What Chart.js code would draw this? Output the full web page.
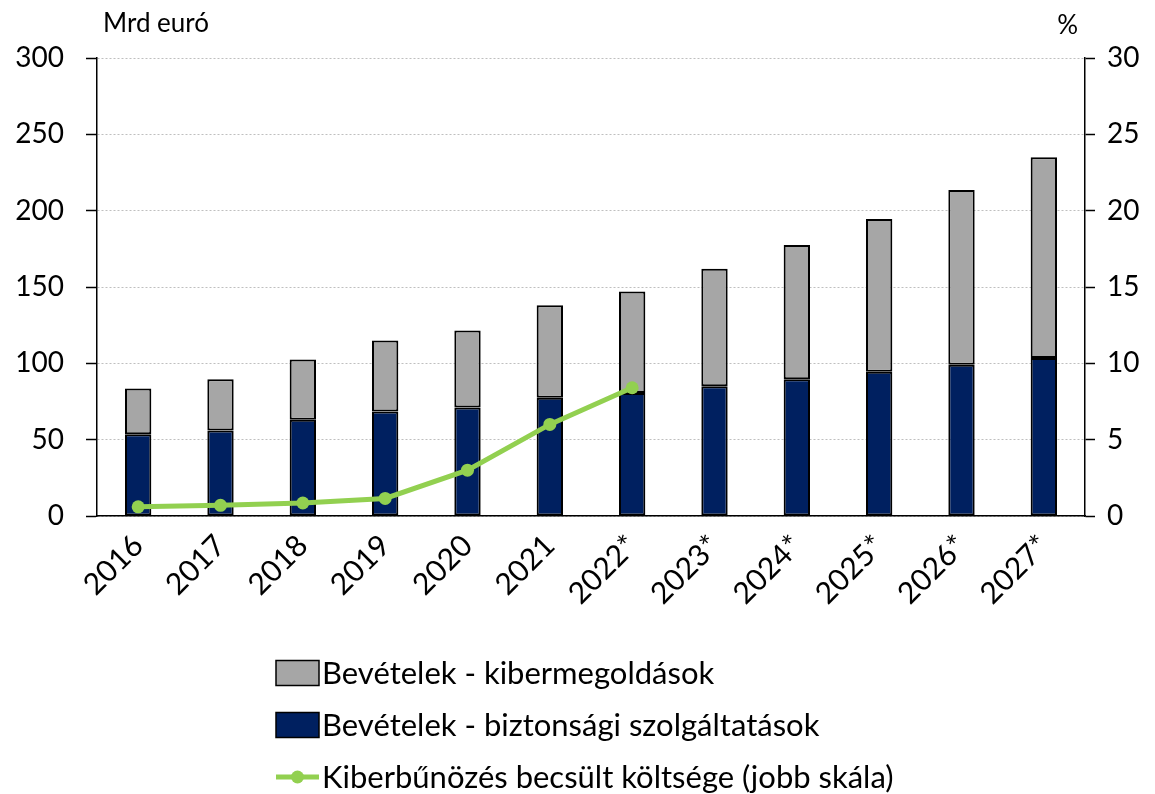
<!DOCTYPE html>
<html lang="hu">
<head>
    <meta charset="UTF-8">
    <title>Kiberbiztonsági bevételek</title>
    <script src="https://cdn.jsdelivr.net/npm/chart.js"></script>
    <style>
        html, body { margin: 0; padding: 0; background: #fff; }
        #wrap { width: 1155px; height: 794px; position: relative; }
    </style>
</head>
<body>
<div id="wrap"><canvas id="cyberChart"></canvas></div>

<script>
    const years = ['2016', '2017', '2018', '2019', '2020', '2021', '2022*', '2023*', '2024*', '2025*', '2026*', '2027*'];
    // Mrd euró
    const securityServices = [53.5, 56, 63, 68.5, 71, 77.5, 80.5, 85, 89.5, 94.5, 99, 103.5];
    const cyberSolutions = [30, 33.5, 39.5, 46.5, 50.5, 60.5, 66.5, 77, 88, 100, 114.5, 131.5];
    // % (jobb skála)
    const cybercrimeCost = [0.6, 0.7, 0.85, 1.15, 3.0, 6.0, 8.4, null, null, null, null, null];

    const leftMax = 300, leftStep = 50;
    const rightMax = 30, rightStep = 5;

    const FONT = 'Lato, "Open Sans", sans-serif';
    const NAVY = '#002060';
    const GREY = '#a6a6a6';
    const GREEN = '#92d050';

    // legend drawn below the axis labels, one item per row
    const stackedLegend = {
        id: 'stackedLegend',
        afterDraw(chart) {
            const ctx = chart.ctx;
            const ds = chart.data.datasets;
            const rows = [ds[1], ds[0], ds[2]];
            const x0 = 276, boxW = 43, boxH = 25;
            ctx.save();
            ctx.font = '31px ' + FONT;
            ctx.textBaseline = 'middle';
            ctx.fillStyle = '#000';
            rows.forEach((d, i) => {
                const cy = 673 + i * 52;
                if (d.type === 'line') {
                    ctx.strokeStyle = d.borderColor;
                    ctx.lineWidth = 5;
                    ctx.beginPath();
                    ctx.moveTo(x0, cy);
                    ctx.lineTo(x0 + boxW, cy);
                    ctx.stroke();
                    ctx.fillStyle = d.borderColor;
                    ctx.beginPath();
                    ctx.arc(x0 + boxW / 2, cy, 6.5, 0, Math.PI * 2);
                    ctx.fill();
                } else {
                    ctx.fillStyle = d.backgroundColor;
                    ctx.fillRect(x0, cy - boxH / 2, boxW, boxH);
                    ctx.strokeStyle = '#000';
                    ctx.lineWidth = 1.5;
                    ctx.strokeRect(x0, cy - boxH / 2, boxW, boxH);
                }
                ctx.fillStyle = '#000';
                ctx.fillText(d.label, x0 + boxW + 3, cy + 1);
            });
            // unit labels above the axes
            ctx.font = '26px ' + FONT;
            ctx.textBaseline = 'alphabetic';
            ctx.textAlign = 'left';
            ctx.fillText('Mrd euró', 103, 32);
            ctx.textAlign = 'right';
            ctx.fillText('%', 1078, 34);
            ctx.restore();
        }
    };

    const ctx = document.getElementById('cyberChart').getContext('2d');
    new Chart(ctx, {
        type: 'bar',
        data: {
            labels: years,
            datasets: [
                {
                    label: 'Bevételek - biztonsági szolgáltatások',
                    data: securityServices,
                    backgroundColor: NAVY,
                    borderColor: '#000',
                    borderWidth: 2,
                    borderSkipped: false,
                    barPercentage: 0.4,
                    categoryPercentage: 0.8,
                    yAxisID: 'y',
                    order: 1
                },
                {
                    label: 'Bevételek - kibermegoldások',
                    data: cyberSolutions,
                    backgroundColor: GREY,
                    borderColor: '#000',
                    borderWidth: 2,
                    borderSkipped: false,
                    barPercentage: 0.4,
                    categoryPercentage: 0.8,
                    yAxisID: 'y',
                    order: 1
                },
                {
                    type: 'line',
                    label: 'Kiberbűnözés becsült költsége (jobb skála)',
                    data: cybercrimeCost,
                    borderColor: GREEN,
                    backgroundColor: GREEN,
                    borderWidth: 5,
                    pointRadius: 6.5,
                    pointBorderWidth: 0,
                    pointBackgroundColor: GREEN,
                    tension: 0,
                    yAxisID: 'y1',
                    order: 0
                }
            ]
        },
        options: {
            responsive: true,
            maintainAspectRatio: false,
            animation: false,
            devicePixelRatio: 1,
            layout: { padding: { top: 58, left: 0, right: 0, bottom: 0 } },
            plugins: {
                legend: { display: false },
                tooltip: { enabled: false }
            },
            scales: {
                x: {
                    stacked: true,
                    grid: { display: false, drawTicks: false },
                    border: { color: '#000', width: 1.5 },
                    ticks: {
                        color: '#000',
                        font: { family: FONT, size: 30 },
                        minRotation: 45,
                        maxRotation: 45,
                        padding: 12
                    },
                    afterFit(s) { s.height = 278; }
                },
                y: {
                    position: 'left',
                    stacked: true,
                    min: 0,
                    max: leftMax,
                    grid: { color: '#bfbfbf', lineWidth: 1, tickLength: 11, tickColor: '#000', tickWidth: 1.5 },
                    border: { color: '#000', width: 1.5, dash: [2, 2] },
                    ticks: {
                        stepSize: leftStep,
                        color: '#000',
                        font: { family: FONT, size: 28 },
                        padding: 22
                    },
                    afterFit(s) { s.width = 97; }
                },
                y1: {
                    position: 'right',
                    min: 0,
                    max: rightMax,
                    grid: { drawOnChartArea: false, tickLength: 10, tickColor: '#000', tickWidth: 1.5 },
                    border: { color: '#000', width: 1.5 },
                    ticks: {
                        stepSize: rightStep,
                        color: '#000',
                        font: { family: FONT, size: 28 },
                        padding: 12
                    },
                    afterFit(s) { s.width = 70; }
                }
            }
        },
        plugins: [stackedLegend]
    });
</script>
</body>
</html>
